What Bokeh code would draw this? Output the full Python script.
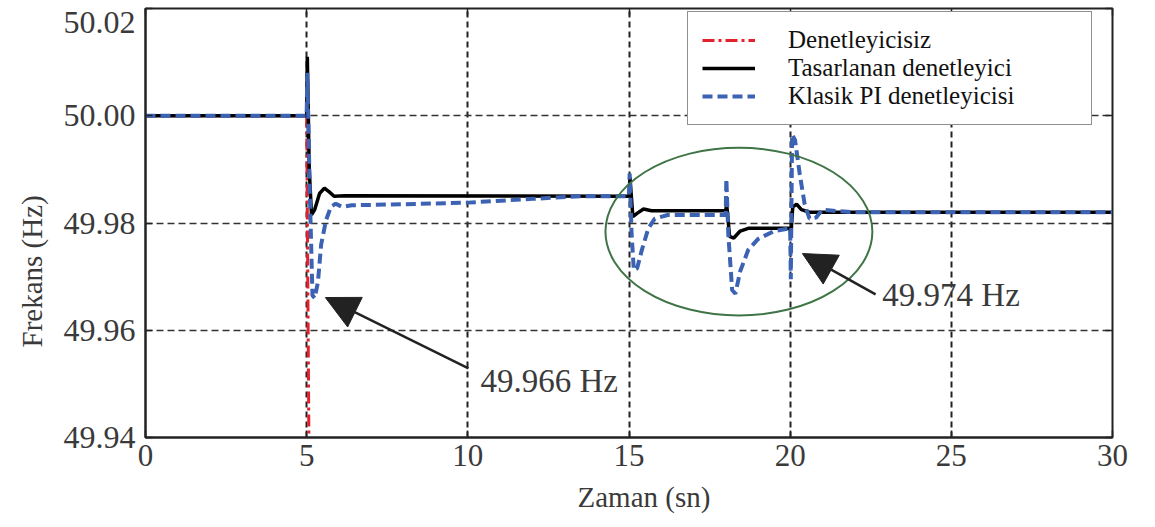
from bokeh.plotting import figure
from bokeh.models import (Range1d, FixedTicker, PrintfTickFormatter, LinearAxis,
                          Legend, LegendItem, Label, Arrow, NormalHead, Title)
from bokeh.embed import file_html
from bokeh.resources import INLINE

# ---------------- data ----------------
series_labels = ["Denetleyicisiz", "Tasarlanan denetleyici", "Klasik PI denetleyicisi"]

t_uncontrolled = [0.0, 5.0, 5.08]
f_uncontrolled = [50.000, 50.000, 49.930]

t_designed = [0.0, 5.0, 5.02, 5.08, 5.15, 5.25, 5.4, 5.55, 5.7, 5.85, 6.2,
              15.0, 15.03, 15.12, 15.25, 15.45, 15.7,
              18.0, 18.03, 18.12, 18.25, 18.45, 18.7,
              20.0, 20.02, 20.08, 20.2, 20.35, 20.6, 30.0]
f_designed = [50.000, 50.000, 50.011, 49.990, 49.9815, 49.9825, 49.9855, 49.9865, 49.9858, 49.9850, 49.9851,
              49.9850, 49.9885, 49.9812, 49.9818, 49.9826, 49.9823,
              49.9823, 49.9835, 49.9775, 49.9772, 49.9785, 49.9790,
              49.9790, 49.9775, 49.9830, 49.9835, 49.9825, 49.9820, 49.9820]

t_pi = [0.0, 5.0, 5.02, 5.1, 5.18, 5.25, 5.35, 5.45, 5.6, 5.75, 5.9, 6.1, 6.4, 8.0, 10.0, 12.0, 13.5,
        15.0, 15.02, 15.08, 15.15, 15.25, 15.4, 15.6, 15.8, 16.2,
        18.0, 18.02, 18.08, 18.2, 18.3, 18.45, 18.7, 19.0, 19.5,
        20.0, 20.02, 20.06, 20.15, 20.3, 20.45, 20.6, 20.8, 21.0, 21.5, 22.0, 30.0]
f_pi = [50.000, 50.000, 50.008, 49.985, 49.9665, 49.9660, 49.9690, 49.9760, 49.9805, 49.9830, 49.9836, 49.9830, 49.9833, 49.9835, 49.9838, 49.9845, 49.9850,
        49.9850, 49.9892, 49.9780, 49.9712, 49.9715, 49.9750, 49.9790, 49.9808, 49.9815,
        49.9815, 49.9882, 49.9780, 49.9675, 49.9668, 49.9710, 49.9750, 49.9770, 49.9785,
        49.9790, 49.9695, 49.9965, 49.9955, 49.9890, 49.9835, 49.9808, 49.9810, 49.9825, 49.9822, 49.9820, 49.9820]

x_ticks = [0, 5, 10, 15, 20, 25, 30]
y_ticks = [49.94, 49.96, 49.98, 50.00, 50.02]
# the top tick label sits a little below its tick in the reference (page edge)
y_label_pos = [49.94, 49.96, 49.98, 50.00, 50.0174]

ellipse_x = [18.41]
ellipse_y = [49.9784]
ellipse_w = [8.28]
ellipse_h = [0.0313]

note_texts = ["49.966 Hz", "49.974 Hz"]
note_x = [10.39, 22.86]
note_y = [49.9506, 49.9665]
arrow_start_x = [10.02, 22.65]
arrow_start_y = [49.9529, 49.9667]
arrow_tip_x = [5.58, 20.38]
arrow_tip_y = [49.9661, 49.9743]

x_title = "Zaman (sn)"
y_title = "Frekans (Hz)"

# ---------------- figure ----------------
FONT = "Liberation Serif"
TXT = "#3a3a3a"
DARK = "#222222"

p = figure(width=1139, height=527, output_backend="svg", toolbar_location=None,
           x_range=Range1d(0, 30), y_range=Range1d(49.94, 50.02),
           min_border_left=145, min_border_right=27, min_border_top=8, min_border_bottom=90)
p.background_fill_color = "white"
p.border_fill_color = "white"
p.outline_line_color = DARK
p.outline_line_width = 2

xa = p.xaxis[0]
xa.ticker = FixedTicker(ticks=x_ticks)
xa.major_label_text_font = FONT
xa.major_label_text_color = TXT
xa.major_label_text_font_size = "31px"
xa.major_label_standoff = 7
xa.major_tick_in = 7
xa.major_tick_out = 0
xa.minor_tick_line_color = None
xa.axis_line_color = DARK
xa.axis_line_width = 2
xa.major_tick_line_color = DARK
xa.major_tick_line_width = 1.5

# left: tick marks only
ya = p.yaxis[0]
ya.ticker = FixedTicker(ticks=y_ticks)
ya.major_label_text_font_size = "1px"
ya.major_label_overrides = {t: "" for t in y_ticks}
ya.major_label_standoff = 0
ya.major_tick_in = 7
ya.major_tick_out = 0
ya.minor_tick_line_color = None
ya.axis_line_color = DARK
ya.axis_line_width = 2
ya.major_tick_line_color = DARK
ya.major_tick_line_width = 1.5

# left: tick labels
ylab = LinearAxis(ticker=FixedTicker(ticks=y_label_pos), formatter=PrintfTickFormatter(format="%.2f"),
                  major_label_text_font=FONT, major_label_text_color=TXT,
                  major_label_text_font_size="32px", major_label_standoff=10,
                  major_tick_in=0, major_tick_out=0, major_tick_line_color=None,
                  minor_tick_line_color=None, axis_line_color=None)
p.add_layout(ylab, "left")

top_ax = LinearAxis(ticker=FixedTicker(ticks=x_ticks), major_label_text_font_size="1px",
                    major_label_overrides={t: "" for t in x_ticks},
                    major_tick_in=7, major_tick_out=0, minor_tick_line_color=None,
                    axis_line_color=None, major_label_standoff=0,
                    major_tick_line_color=DARK, major_tick_line_width=1.5)
right_ax = LinearAxis(ticker=FixedTicker(ticks=y_ticks), major_label_text_font_size="1px",
                      major_label_overrides={t: "" for t in y_ticks},
                      major_tick_in=7, major_tick_out=0, minor_tick_line_color=None,
                      axis_line_color=None, major_label_standoff=0,
                      major_tick_line_color=DARK, major_tick_line_width=1.5)
p.add_layout(top_ax, "above")
p.add_layout(right_ax, "right")

p.xgrid.ticker = FixedTicker(ticks=x_ticks)
p.ygrid.ticker = FixedTicker(ticks=y_ticks)
p.xgrid.grid_line_color = DARK
p.xgrid.grid_line_dash = "6 4"
p.xgrid.grid_line_width = 2
p.ygrid.grid_line_color = "#333333"
p.ygrid.grid_line_dash = "7 4"
p.ygrid.grid_line_width = 1.5

r_red = p.line(t_uncontrolled, f_uncontrolled, line_color="#e3202b", line_width=3, line_dash="12 4 3 4")
r_black = p.line(t_designed, f_designed, line_color="black", line_width=3.5)
r_blue = p.line(t_pi, f_pi, line_color="#3c62b4", line_width=4, line_dash="10 5")

p.ellipse(x=ellipse_x, y=ellipse_y, width=ellipse_w, height=ellipse_h,
          fill_alpha=0, line_color="#3f7446", line_width=2)

for i in range(len(note_texts)):
    p.add_layout(Arrow(end=NormalHead(size=33, fill_color=DARK, line_color=DARK),
                       x_start=arrow_start_x[i], y_start=arrow_start_y[i],
                       x_end=arrow_tip_x[i], y_end=arrow_tip_y[i],
                       line_color=DARK, line_width=2.5))
    p.add_layout(Label(x=note_x[i], y=note_y[i], text=note_texts[i], text_font=FONT,
                       text_font_size="33px", text_color=TXT, text_align="left",
                       text_baseline="middle"))

legend = Legend(items=[LegendItem(label=series_labels[0], renderers=[r_red]),
                       LegendItem(label=series_labels[1], renderers=[r_black]),
                       LegendItem(label=series_labels[2], renderers=[r_blue])],
                location=(542, 312), padding=14, spacing=0, margin=0,
                glyph_width=53, glyph_height=28, label_height=28, label_standoff=33,
                label_width=289, label_text_font=FONT, label_text_font_size="25px",
                label_text_color="#111111", border_line_color=DARK, border_line_width=1.5,
                background_fill_color="white", background_fill_alpha=1)
p.add_layout(legend)

p.add_layout(Title(text=x_title, align="left", offset=432, text_font=FONT,
                   text_font_size="29px", text_font_style="normal", text_color=TXT,
                   standoff=20), "below")
p.add_layout(Title(text=y_title, align="left", offset=90, text_font=FONT,
                   text_font_size="29px", text_font_style="normal", text_color=TXT,
                   standoff=26), "left")

open("out.html", "w").write(file_html(p, INLINE))
